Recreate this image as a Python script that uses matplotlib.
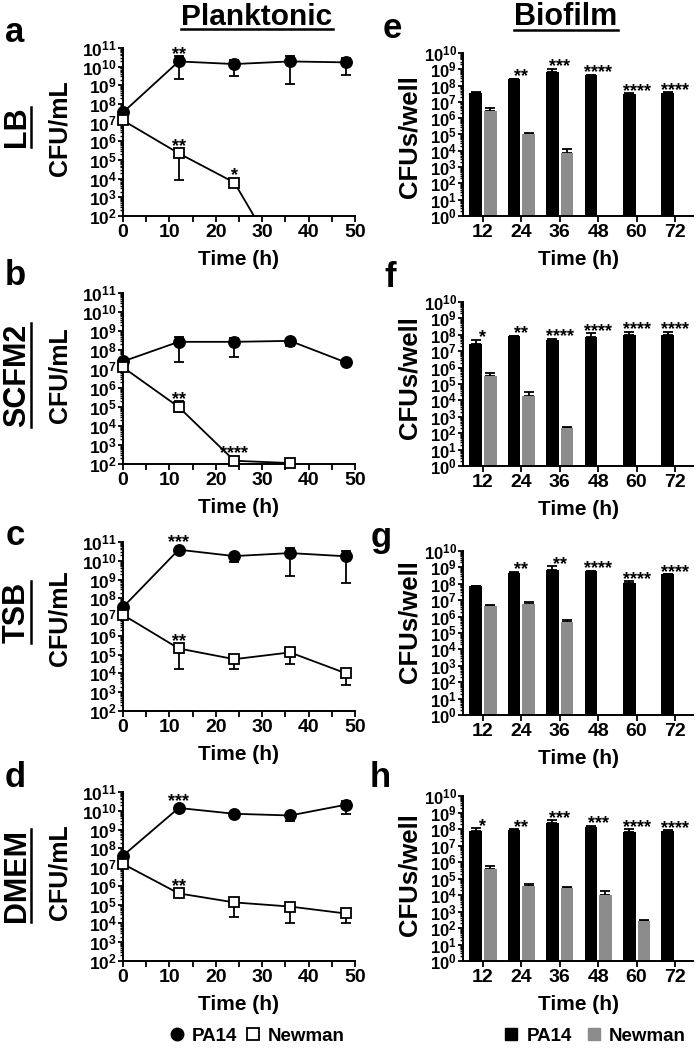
import matplotlib
matplotlib.use('Agg')
import matplotlib.pyplot as plt
from matplotlib.lines import Line2D
from matplotlib.patches import Rectangle
from matplotlib.ticker import FixedLocator, FixedFormatter, LogLocator, NullFormatter, MultipleLocator
import numpy as np

plt.rcParams['font.family'] = ['Liberation Sans', 'DejaVu Sans']
plt.rcParams['font.weight'] = 'bold'
plt.rcParams['axes.labelweight'] = 'bold'
plt.rcParams['mathtext.fontset'] = 'custom'
plt.rcParams['mathtext.rm'] = 'Liberation Sans:bold'
plt.rcParams['mathtext.bf'] = 'Liberation Sans:bold'
plt.rcParams['axes.linewidth'] = 1.4

W, H = 697, 1058

# ---- planktonic data (log10 CFU/mL): mean, upper end, lower end of error bar
t_plank = [0, 12, 24, 36, 48]

lb_pa14 = [7.55, 10.28, 10.14, 10.28, 10.23]
lb_pa14_hi = [7.6, 10.55, 10.37, 10.55, 10.46]
lb_pa14_lo = [7.5, 9.35, 9.51, 9.08, 9.57]
lb_pa14_st = ['', '**', '', '', '']
lb_new = [7.12, 5.36, 3.79, -1.3, -1.3]
lb_new_hi = [7.3, 5.6, 3.85, -1.3, -1.3]
lb_new_lo = [6.95, 3.93, 3.75, -1.3, -1.3]
lb_new_st = ['', '**', '*', '', '']

scfm_pa14 = [7.4, 8.43, 8.43, 8.48, 7.35]
scfm_pa14_hi = [7.5, 8.69, 8.62, 8.55, 7.35]
scfm_pa14_lo = [7.3, 7.35, 7.61, 8.22, 7.35]
scfm_pa14_st = ['', '', '', '', '']
scfm_new = [7.09, 5.0, 2.17, 2.05]
scfm_new_hi = [7.2, 5.34, 2.17, 2.05]
scfm_new_lo = [6.95, 4.74, 2.17, 2.05]
scfm_new_st = ['', '**', '****', '']

tsb_pa14 = [7.53, 10.59, 10.25, 10.41, 10.24]
tsb_pa14_hi = [7.6, 10.59, 10.35, 10.7, 10.5]
tsb_pa14_lo = [7.45, 10.59, 9.93, 9.18, 8.83]
tsb_pa14_st = ['', '***', '', '', '']
tsb_new = [7.12, 5.33, 4.76, 5.12, 4.01]
tsb_new_hi = [7.27, 5.51, 4.94, 5.3, 4.23]
tsb_new_lo = [6.9, 4.23, 4.23, 4.5, 3.39]
tsb_new_st = ['', '**', '', '', '']

dmem_pa14 = [7.61, 10.15, 9.84, 9.75, 10.32]
dmem_pa14_hi = [7.65, 10.15, 9.84, 9.75, 10.5]
dmem_pa14_lo = [7.55, 10.15, 9.84, 9.43, 9.84]
dmem_pa14_st = ['', '***', '', '', '']
dmem_new = [7.17, 5.6, 5.12, 4.9, 4.53]
dmem_new_hi = [7.32, 5.6, 5.35, 5.03, 4.67]
dmem_new_lo = [6.95, 5.6, 4.32, 4.05, 4.05]
dmem_new_st = ['', '**', '', '', '']

# ---- biofilm data (log10 CFUs/well): bar height and top of error bar
t_bio = ['12', '24', '36', '48', '60', '72']
nan = np.nan

e_pa14 = [7.55, 8.39, 8.84, 8.63, 7.51, 7.55]
e_pa14_hi = [7.6, 8.42, 9.04, 8.67, 7.54, 7.58]
e_new = [6.43, 5.02, 3.88, nan, nan, nan]
e_new_hi = [6.6, 5.12, 4.1, nan, nan, nan]
e_st = ['', '**', '***', '****', '****', '****']

f_pa14 = [7.46, 7.91, 7.71, 7.87, 8.01, 8.01]
f_pa14_hi = [7.7, 7.94, 7.75, 8.11, 8.2, 8.2]
f_new = [5.48, 4.28, 2.29, nan, nan, nan]
f_new_hi = [5.7, 4.5, 2.35, nan, nan, nan]
f_st = ['*', '**', '****', '****', '****', '****']

g_pa14 = [7.85, 8.68, 8.82, 8.76, 8.07, 8.58]
g_pa14_hi = [7.85, 8.74, 9.06, 8.79, 8.17, 8.6]
g_new = [6.63, 6.75, 5.68, nan, nan, nan]
g_new_hi = [6.7, 6.86, 5.82, nan, nan, nan]
g_st = ['', '**', '**', '****', '****', '****']

h_pa14 = [7.89, 7.94, 8.38, 8.10, 7.83, 7.89]
h_pa14_hi = [8.04, 7.97, 8.54, 8.2, 8.0, 7.92]
h_new = [5.57, 4.53, 4.43, 4.03, 2.41, nan]
h_new_hi = [5.75, 4.66, 4.46, 4.23, 2.49, nan]
h_st = ['*', '**', '***', '***', '****', '****']

GREY = '#8c8c8c'

fig = plt.figure(figsize=(W / 100, H / 100), dpi=100)


def px_axes(left, top, right, bottom):
    return fig.add_axes([left / W, 1 - bottom / H, (right - left) / W, (bottom - top) / H])


def log_yaxis(ax, lo, hi, size):
    ax.set_yscale('log')
    ax.set_ylim(10.0 ** lo, 10.0 ** hi)
    decs = list(range(lo, hi + 1))
    ax.yaxis.set_major_locator(FixedLocator([10.0 ** d for d in decs]))
    ax.yaxis.set_major_formatter(FixedFormatter([r'$\mathbf{10^{%d}}$' % d for d in decs]))
    ax.yaxis.set_minor_locator(LogLocator(base=10, subs=np.arange(2, 10), numticks=20))
    ax.yaxis.set_minor_formatter(NullFormatter())
    ax.tick_params(axis='y', which='major', length=3.5, width=1.3, pad=1, labelsize=size)
    ax.tick_params(axis='y', which='minor', length=2, width=1.0)
    ax.spines['top'].set_visible(False)
    ax.spines['right'].set_visible(False)


def bold_ticks(ax):
    for lab in ax.get_xticklabels() + ax.get_yticklabels():
        lab.set_fontweight('bold')


def star(ax, x, top, s):
    if s:
        ax.annotate(s, (x, 10.0 ** top), xytext=(0, -2.5), textcoords='offset points',
                    ha='center', va='baseline', fontsize=13, annotation_clip=False)


def plank(ax, series, clip_new=False):
    log_yaxis(ax, 2, 11, 12.5)
    ax.set_xlim(0, 50)
    ax.xaxis.set_major_locator(MultipleLocator(10))
    ax.xaxis.set_minor_locator(MultipleLocator(5))
    ax.tick_params(axis='x', which='both', length=4, width=1.3, pad=2, labelsize=14)
    ax.set_xlabel('Time (h)', fontsize=15, labelpad=6, fontweight='bold')
    bold_ticks(ax)
    for k, (vals, hi, lo, st, mk, mfc) in enumerate(series):
        t = np.array(t_plank[:len(vals)])
        v = 10.0 ** np.array(vals)
        yerr = [v - 10.0 ** np.array(lo), 10.0 ** np.array(hi) - v]
        eb = ax.errorbar(t, v, yerr=yerr, color='black', lw=1.3, elinewidth=1.3,
                         capsize=3.5, capthick=1.3, marker=mk, ms=8 if mk == 'o' else 7.5,
                         mfc=mfc, mec='black', mew=1.3, clip_on=False, zorder=3 + k)
        if clip_new and k == 1:
            rect = Rectangle((-5, 100), 60, 1e12, transform=ax.transData)
            for art in [eb.lines[0], *eb.lines[1], *eb.lines[2]]:
                art.set_clip_on(True)
                art.set_clip_path(rect)
        for i, s in enumerate(st):
            star(ax, t[i], max(hi[i], vals[i] + 0.3), s)


def bio(ax, pa, pa_hi, nw, nw_hi, st):
    log_yaxis(ax, 0, 10, 12)
    x = np.arange(len(t_bio))
    ax.set_xlim(-0.52, 5.47)
    off, wd = 0.19, 0.33
    pa_v = 10.0 ** np.array(pa)
    nw_v = 10.0 ** np.array(nw)
    ax.bar(x - off, pa_v - 1, bottom=1, width=wd, color='black', zorder=2)
    ax.bar(x + off, nw_v - 1, bottom=1, width=wd, color=GREY, zorder=2)
    ax.errorbar(x - off, pa_v, yerr=[np.zeros(len(x)), 10.0 ** np.array(pa_hi) - pa_v],
                fmt='none', ecolor='black', elinewidth=1.3, capsize=3.5, capthick=1.3, zorder=1)
    ax.errorbar(x + off, nw_v, yerr=[np.zeros(len(x)), 10.0 ** np.array(nw_hi) - nw_v],
                fmt='none', ecolor='black', elinewidth=1.3, capsize=3.5, capthick=1.3, zorder=1)
    ax.set_xticks(x)
    ax.set_xticklabels(t_bio)
    ax.tick_params(axis='x', which='both', length=4, width=1.3, pad=2, labelsize=14)
    ax.set_xlabel('Time (h)', fontsize=15, labelpad=6, fontweight='bold')
    bold_ticks(ax)
    for i, s in enumerate(st):
        star(ax, x[i], max(pa[i], pa_hi[i]) + 0.05, s)


pl_rows = [(48, 216), (293, 464), (542, 711), (792, 961)]
bio_rows = [(53, 216), (302, 466), (551, 715), (796, 961)]

plank_sets = [
    [(lb_pa14, lb_pa14_hi, lb_pa14_lo, lb_pa14_st, 'o', 'black'),
     (lb_new, lb_new_hi, lb_new_lo, lb_new_st, 's', 'white')],
    [(scfm_pa14, scfm_pa14_hi, scfm_pa14_lo, scfm_pa14_st, 'o', 'black'),
     (scfm_new, scfm_new_hi, scfm_new_lo, scfm_new_st, 's', 'white')],
    [(tsb_pa14, tsb_pa14_hi, tsb_pa14_lo, tsb_pa14_st, 'o', 'black'),
     (tsb_new, tsb_new_hi, tsb_new_lo, tsb_new_st, 's', 'white')],
    [(dmem_pa14, dmem_pa14_hi, dmem_pa14_lo, dmem_pa14_st, 'o', 'black'),
     (dmem_new, dmem_new_hi, dmem_new_lo, dmem_new_st, 's', 'white')],
]
bio_sets = [
    (e_pa14, e_pa14_hi, e_new, e_new_hi, e_st),
    (f_pa14, f_pa14_hi, f_new, f_new_hi, f_st),
    (g_pa14, g_pa14_hi, g_new, g_new_hi, g_st),
    (h_pa14, h_pa14_hi, h_new, h_new_hi, h_st),
]

for r in range(4):
    ax = px_axes(123, pl_rows[r][0], 355, pl_rows[r][1])
    plank(ax, plank_sets[r], clip_new=(r == 0))
    ax2 = px_axes(463, bio_rows[r][0], 693, bio_rows[r][1])
    bio(ax2, *bio_sets[r])

underlined = []


def ftext(x, y, s, size, rot=0, under=False):
    t = fig.text(x / W, 1 - y / H, s, fontsize=size, rotation=rot, rotation_mode='anchor',
                 ha='center', va='baseline', fontweight='bold')
    if under:
        underlined.append(t)
    return t


ftext(257, 25, 'Planktonic', 21.5, under=True)
ftext(566, 25, 'Biofilm', 22, under=True)

letters = [('a', 15, 42), ('b', 15, 285), ('c', 15, 545), ('d', 15, 787),
           ('e', 392, 38), ('f', 390, 287), ('g', 381, 547), ('h', 380, 787)]
for s, x, y in letters:
    ftext(x, y, s, 25)

media = [('LB', 127), ('SCFM2', 375), ('TSB', 612), ('DMEM', 875)]
for s, y in media:
    ftext(25, y, s, 22, rot=90, under=True)

for y in [128, 375, 618, 872]:
    ftext(66, y, 'CFU/mL', 18, rot=90)
for y in [137, 378, 622, 875]:
    ftext(417, y, 'CFUs/well', 18.5, rot=90)

h_left = [Line2D([], [], marker='o', color='black', ls='none', ms=9),
          Line2D([], [], marker='s', color='black', mfc='white', mew=1.3, ls='none', ms=9)]
fig.legend(h_left, ['PA14', 'Newman'], loc='center', bbox_to_anchor=(257 / W, 1 - 1036 / H),
           ncol=2, frameon=False, fontsize=13.5, handlelength=0.8, handletextpad=0.4,
           columnspacing=0.4)
h_right = [Line2D([], [], marker='s', color='black', ls='none', ms=9),
           Line2D([], [], marker='s', color=GREY, ls='none', ms=9)]
fig.legend(h_right, ['PA14', 'Newman'], loc='center', bbox_to_anchor=(595 / W, 1 - 1036 / H),
           ncol=2, frameon=False, fontsize=13.5, handlelength=0.8, handletextpad=0.4,
           columnspacing=0.8)

fig.canvas.draw()
rend = fig.canvas.get_renderer()
for t in underlined:
    bb = t.get_window_extent(rend)
    if t.get_rotation() == 0:
        xs, ys = [bb.x0, bb.x1], [bb.y0 + 2, bb.y0 + 2]
    else:
        xs, ys = [bb.x1 - 1, bb.x1 - 1], [bb.y0, bb.y1]
    fig.add_artist(Line2D([x / W for x in xs], [y / H for y in ys], color='black', lw=1.8))

fig.savefig('out.png', dpi=100)
